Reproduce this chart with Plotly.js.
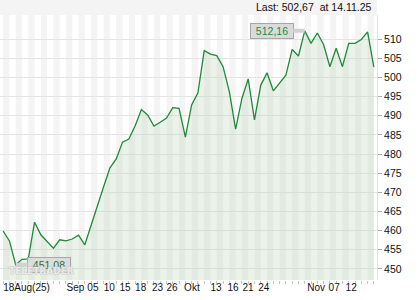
<!DOCTYPE html>
<html>
<head>
<meta charset="utf-8">
<script src="https://cdn.plot.ly/plotly-3.0.1.min.js"></script>
<style>html,body{margin:0;padding:0;background:#fff;}#chart{width:420px;height:300px;}</style>
</head>
<body>
<div id="chart"></div>
<script>
// Closing prices (one per session, Aug 18 2025 .. Nov 14 2025)
const closes = [459.9, 457.3, 451.08, 452.5, 452.6, 462.2, 458.9, 457.1, 455.4, 457.6,
  457.3, 457.8, 458.8, 456.3, 461.5, 466.3, 471.5, 476.4, 478.7, 483.1,
  483.9, 487.3, 491.6, 490.2, 487.3, 488.3, 489.4, 492.1, 491.9, 484.4,
  492.8, 496.0, 507.0, 506.1, 505.7, 502.8, 496.3, 486.5, 494.5, 499.6,
  488.9, 498.0, 501.2, 496.5, 498.6, 500.6, 507.3, 505.6, 512.16, 508.9,
  511.6, 508.6, 502.8, 507.6, 502.8, 508.9, 508.9, 509.9, 511.9, 502.67];
// x-axis labels and the session index they sit on
const tickLabels = ["18Aug(25)", "Sep", "05", "10", "15", "18", "23", "26", "Okt", "13", "16", "21", "24", "Nov", "07", "12"];
const tickIndex  = [0, 10.1, 13.4, 16, 18.5, 21, 23.7, 26, 28.8, 33, 35.7, 38.1, 40.6, 48.4, 51.8, 54.5];
const yTicks = [450, 455, 460, 465, 470, 475, 480, 485, 490, 495, 500, 505, 510];
const lastText = "Last: 502,67  at 14.11.25";
const maxLabel = "512,16";
const minLabel = "451,08";
const watermark = "TELETRADER";

const idx = closes.map((_, i) => i);
const iMax = closes.indexOf(Math.max(...closes));
const iMin = closes.indexOf(Math.min(...closes));
const green = '#1f8a3b';
const font = 'Liberation Sans, Arial, sans-serif';

// alternating day stripes
const shapes = [];
for (let i = 0; i < closes.length; i += 2) {
  shapes.push({type: 'rect', xref: 'x', yref: 'paper', x0: i, x1: i + 1, y0: 0, y1: 1,
    fillcolor: '#f4f4f4', line: {width: 0}, layer: 'below'});
}
shapes.push({type: 'rect', xref: 'paper', yref: 'paper', x0: 0, x1: 1, y0: 1, y1: 1.06,
  fillcolor: '#f4f4f4', line: {width: 0}, layer: 'below'});

const trace = {
  x: idx, y: closes, type: 'scatter', mode: 'lines',
  line: {color: green, width: 1.3},
  fill: 'tozeroy', fillcolor: 'rgba(180,210,180,0.28)',
  hoverinfo: 'skip'
};

const layout = {
  width: 420, height: 300,
  margin: {l: 0, r: 43, t: 15, b: 20, pad: 0},
  paper_bgcolor: '#ffffff', plot_bgcolor: '#ffffff',
  showlegend: false,
  font: {family: font, size: 10.5, color: '#111'},
  xaxis: {
    range: [-0.5, closes.length - 0.5], showgrid: false, zeroline: false,
    tickmode: 'array', tickvals: tickIndex, ticktext: tickLabels,
    ticks: '', ticklabelposition: 'outside right', tickangle: 0,
    tickfont: {family: font, size: 10, color: '#111'},
    showline: false,
    minor: {tickmode: 'linear', tick0: 0, dtick: 1, ticks: 'outside', ticklen: 3, tickcolor: '#c4c4c4', showgrid: false}
  },
  yaxis: {
    side: 'right', range: [447.1, 516.3], tickmode: 'array', tickvals: yTicks,
    showgrid: true, gridcolor: '#e4e4e4', gridwidth: 1, zeroline: false,
    ticks: 'outside', ticklen: 4, tickcolor: '#aaa',
    showline: true, linecolor: '#e2e2e2', linewidth: 1,
    tickfont: {family: font, size: 10.5, color: '#111'}
  },
  shapes: shapes,
  annotations: [
    {xref: 'paper', yref: 'paper', x: 0.992, y: 1.029, xanchor: 'right', yanchor: 'middle',
     text: lastText, showarrow: false, font: {family: font, size: 10.5, color: '#111'}},
    {x: iMax, y: closes[iMax], text: maxLabel, showarrow: true, arrowhead: 0, arrowwidth: 4,
     arrowcolor: '#d2d2d2', ax: -33, ay: 0, bgcolor: '#dadada', bordercolor: '#a6a6a6',
     borderwidth: 1, borderpad: 1, width: 40, height: 12,
     font: {family: font, size: 10.5, color: green}},
    {x: iMin, y: closes[iMin], text: minLabel, showarrow: true, arrowhead: 0, arrowwidth: 4,
     arrowcolor: '#d2d2d2', ax: 33.5, ay: 0, bgcolor: 'rgba(218,218,218,0.9)', bordercolor: '#a6a6a6',
     borderwidth: 1, borderpad: 1, width: 40, height: 12,
     font: {family: font, size: 10.5, color: '#2f6f3f'}},
    {xref: 'paper', yref: 'paper', x: 0.1106, y: 0.033, xanchor: 'center', yanchor: 'middle',
     text: watermark, showarrow: false,
     font: {family: 'DejaVu Sans, sans-serif', size: 9, color: 'rgba(255,255,255,0.6)', weight: 700,
       shadow: '1px 0 0 #c8c8c8, -1px 0 0 #c8c8c8, 0 1px 0 #c8c8c8, 0 -1px 0 #c8c8c8'}}
  ]
};

Plotly.newPlot('chart', [trace], layout, {staticPlot: true, displayModeBar: false});
</script>
</body>
</html>
